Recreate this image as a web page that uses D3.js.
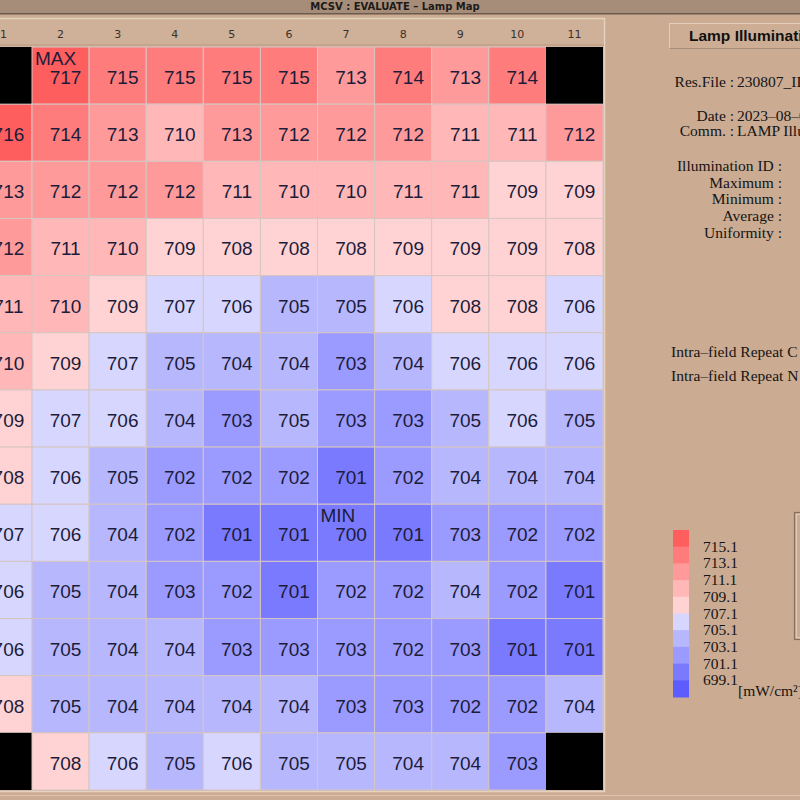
<!DOCTYPE html>
<html>
<head>
<meta charset="utf-8">
<script src="https://cdnjs.cloudflare.com/ajax/libs/d3/7.8.5/d3.min.js"></script>
<style>
  html, body { margin: 0; padding: 0; background: #cbab92; }
  svg { display: block; }
</style>
</head>
<body>
<svg id="lampMap" width="800" height="800"></svg>
<script>
// column / row ids of the lamp map
const columns = [1, 2, 3, 4, 5, 6, 7, 8, 9, 10, 11];
const rows = [1, 2, 3, 4, 5, 6, 7, 8, 9, 10, 11, 12, 13];

// measured illumination, null = corner not measured (black)
const values = [
  [null, 717, 715, 715, 715, 715, 713, 714, 713, 714, null],
  [716, 714, 713, 710, 713, 712, 712, 712, 711, 711, 712],
  [713, 712, 712, 712, 711, 710, 710, 711, 711, 709, 709],
  [712, 711, 710, 709, 708, 708, 708, 709, 709, 709, 708],
  [711, 710, 709, 707, 706, 705, 705, 706, 708, 708, 706],
  [710, 709, 707, 705, 704, 704, 703, 704, 706, 706, 706],
  [709, 707, 706, 704, 703, 705, 703, 703, 705, 706, 705],
  [708, 706, 705, 702, 702, 702, 701, 702, 704, 704, 704],
  [707, 706, 704, 702, 701, 701, 700, 701, 703, 702, 702],
  [706, 705, 704, 703, 702, 701, 702, 702, 704, 702, 701],
  [706, 705, 704, 704, 703, 703, 703, 702, 703, 701, 701],
  [708, 705, 704, 704, 704, 704, 703, 703, 702, 702, 704],
  [null, 708, 706, 705, 706, 705, 705, 704, 704, 703, null]
];

// legend thresholds and palette (low -> high)
const thresholds = [699.1, 701.1, 703.1, 705.1, 707.1, 709.1, 711.1, 713.1, 715.1];
const palette = ["#5c5cff", "#7a7aff", "#9a9aff", "#b7b7fd", "#d6d6ff",
                 "#ffd3d3", "#ffb7b7", "#ff9a9a", "#ff7c7c", "#ff5e5e"];

const infoLabels1 = ["Res.File :", "Date :", "Comm. :"];
const infoValues1 = ["230807_ID01", "2023\u201308\u201307", "LAMP Illumination"];
const infoLabels2 = ["Illumination ID :", "Maximum :", "Minimum :", "Average :", "Uniformity :"];
const repeatLabels = ["Intra\u2013field Repeat C", "Intra\u2013field Repeat N"];

const svg = d3.select("#lampMap");

// title bar
svg.append("rect").attr("x", 0).attr("y", 0).attr("width", 800).attr("height", 13).attr("fill", "#a58d7a");
svg.append("rect").attr("x", 0).attr("y", 13).attr("width", 800).attr("height", 1.5).attr("fill", "#6d5a4b");
svg.append("text")
  .attr("x", 395).attr("y", 10)
  .attr("text-anchor", "middle")
  .style("font-family", "'DejaVu Sans', sans-serif")
  .style("font-weight", "bold")
  .style("font-size", "10px")
  .attr("fill", "#1e1a18")
  .text("MCSV : EVALUATE \u2013 Lamp Map");

const x = d3.scaleBand().domain(columns).range([-25.1, 603]);
const y = d3.scaleBand().domain(rows).range([47, 790]);
const color = d3.scaleThreshold().domain(thresholds).range(palette);

// header frame
svg.append("rect").attr("x", -2).attr("y", 18.5).attr("width", 606.5).attr("height", 773)
  .attr("fill", "#cfb098").attr("stroke", "#e6d2c0").attr("stroke-width", 1.5);
svg.append("line").attr("x1", 0).attr("x2", 604).attr("y1", 45).attr("y2", 45)
  .attr("stroke", "#b89a82").attr("stroke-width", 1);

svg.append("g").selectAll("text")
  .data(columns)
  .enter().append("text")
  .attr("x", d => x(d) + x.bandwidth() / 2)
  .attr("y", 38)
  .attr("text-anchor", "middle")
  .style("font-family", "'DejaVu Sans', sans-serif")
  .style("font-size", "11px")
  .attr("fill", "#3b302a")
  .text(d => d);

// cells
const cells = [];
values.forEach((r, i) => r.forEach((v, j) => cells.push({ row: rows[i], col: columns[j], v })));

const cellG = svg.append("g").selectAll("g")
  .data(cells)
  .enter().append("g")
  .attr("transform", d => `translate(${x(d.col)},${y(d.row)})`);

cellG.append("rect")
  .attr("width", x.bandwidth())
  .attr("height", y.bandwidth())
  .attr("fill", d => d.v === null ? "#000" : color(d.v))
  .attr("stroke", d => d.v === null ? "none" : "#d6c6c2")
  .attr("stroke-width", 1);

cellG.filter(d => d.v !== null).append("text")
  .attr("x", x.bandwidth() / 2 + 5)
  .attr("y", 37)
  .attr("text-anchor", "middle")
  .style("font-family", "'Liberation Sans', Arial, sans-serif")
  .style("font-size", "19px")
  .attr("fill", "#1c1c3a")
  .text(d => d.v);

const vals = cells.filter(d => d.v !== null).map(d => d.v);
const maxV = d3.max(vals), minV = d3.min(vals);
const maxCell = cells.find(d => d.v === maxV);
const minCell = cells.find(d => d.v === minV);

[[maxCell, "MAX"], [minCell, "MIN"]].forEach(([c, label]) => {
  svg.append("text")
    .attr("x", x(c.col) + 3)
    .attr("y", y(c.row) + 18)
    .style("font-family", "'Liberation Sans', Arial, sans-serif")
    .style("font-size", "19px")
    .attr("fill", "#1c1c3a")
    .text(label);
});

// bottom bevel
svg.append("rect").attr("x", 0).attr("y", 795).attr("width", 800).attr("height", 1).attr("fill", "#dcc4b0");

// right panel title box
svg.append("rect").attr("x", 669.5).attr("y", 23.5).attr("width", 140).attr("height", 25)
  .attr("fill", "#cdae95").attr("stroke", "#e4cfbd").attr("stroke-width", 1);
svg.append("line").attr("x1", 669.5).attr("x2", 800).attr("y1", 48.5).attr("y2", 48.5)
  .attr("stroke", "#a88d78");
svg.append("text")
  .attr("x", 689).attr("y", 41)
  .style("font-family", "'Liberation Sans', Arial, sans-serif")
  .style("font-weight", "bold")
  .style("font-size", "15.5px")
  .attr("fill", "#111")
  .text("Lamp Illumination Map");

const serif = "'Liberation Serif', 'Times New Roman', serif";
const fs = "15.5px";
const infoY1 = [87, 121, 136];
infoLabels1.forEach((t, i) => {
  svg.append("text").attr("x", 734).attr("y", infoY1[i]).attr("text-anchor", "end")
    .style("font-family", serif).style("font-size", fs).attr("fill", "#141414").text(t);
  svg.append("text").attr("x", 737).attr("y", infoY1[i])
    .style("font-family", serif).style("font-size", fs).attr("fill", "#141414").text(infoValues1[i]);
});

const infoY2 = [171, 188, 204, 221, 238];
infoLabels2.forEach((t, i) => {
  svg.append("text").attr("x", 782).attr("y", infoY2[i]).attr("text-anchor", "end")
    .style("font-family", serif).style("font-size", fs).attr("fill", "#141414").text(t);
});

repeatLabels.forEach((t, i) => {
  svg.append("text").attr("x", 671).attr("y", 357 + i * 24)
    .style("font-family", serif).style("font-size", fs).attr("fill", "#141414").text(t);
});

// legend
const legendIdx = d3.range(palette.length).reverse(); // high on top
const ly = d3.scaleBand().domain(legendIdx).range([530, 697]);
svg.append("g").selectAll("rect")
  .data(legendIdx)
  .enter().append("rect")
  .attr("x", 673).attr("y", d => ly(d))
  .attr("width", 16).attr("height", ly.bandwidth() + 0.5)
  .attr("fill", d => palette[d]);

svg.append("g").selectAll("text")
  .data(thresholds)
  .enter().append("text")
  .attr("x", 703)
  .attr("y", (d, i) => ly(i) + 5)
  .style("font-family", serif).style("font-size", fs).attr("fill", "#141414")
  .text(d => d.toFixed(1));

svg.append("text").attr("x", 738).attr("y", 696)
  .style("font-family", serif).style("font-size", fs).attr("fill", "#141414")
  .text("[mW/cm\u00b2]");

// partial box on the far right
svg.append("rect").attr("x", 794.5).attr("y", 512.5).attr("width", 20).attr("height", 127)
  .attr("fill", "none").attr("stroke", "#8a6f5b").attr("stroke-width", 1.2);
svg.append("rect").attr("x", 796.5).attr("y", 514.5).attr("width", 20).attr("height", 123)
  .attr("fill", "none").attr("stroke", "#e2ccb9").attr("stroke-width", 1);
</script>
</body>
</html>
